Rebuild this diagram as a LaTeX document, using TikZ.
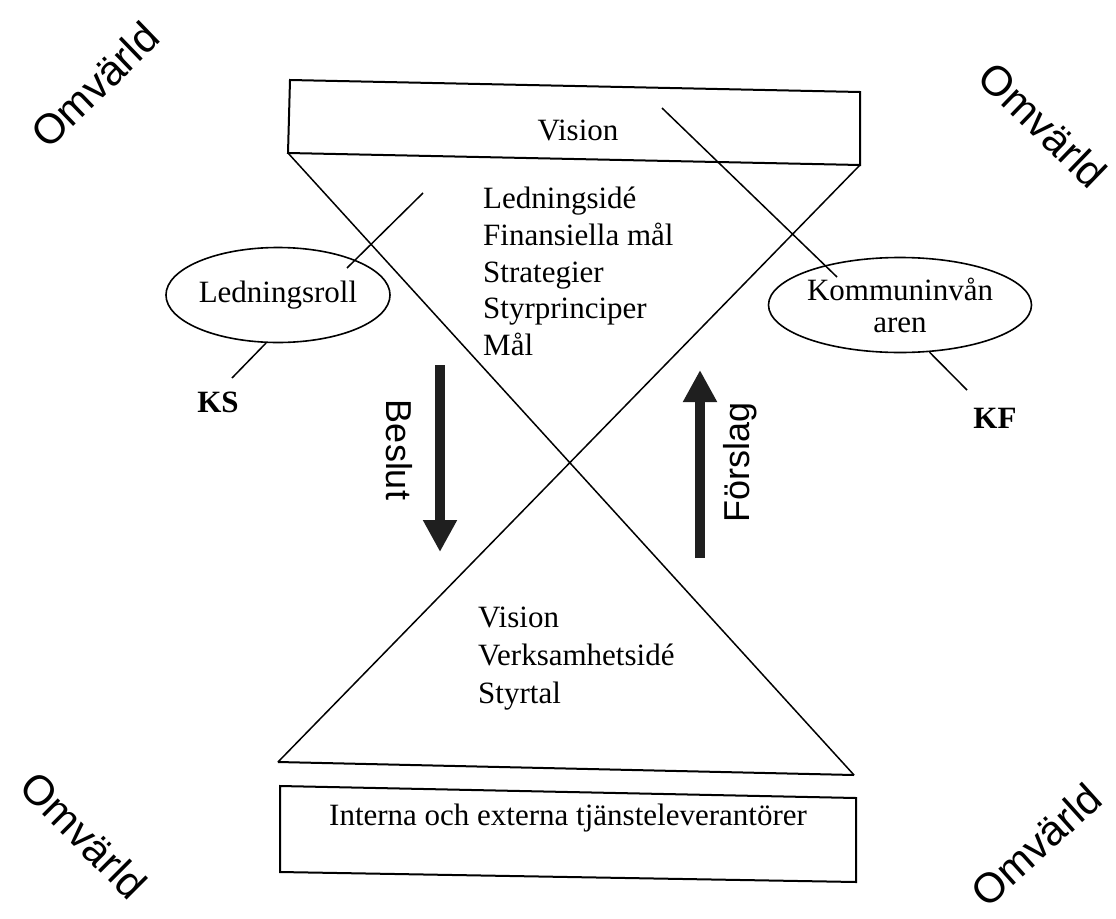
\documentclass[tikz,border=0pt]{standalone}
\usepackage{fontspec}
\setmainfont{Liberation Serif}
\newfontfamily\arialfont{Liberation Sans}
\usetikzlibrary{shapes.geometric,arrows.meta}
\begin{document}
\begin{tikzpicture}[x=1pt,y=-1pt,
  txt/.style={font=\fontsize{31}{37}\selectfont,inner sep=0pt},
  sidetxt/.style={font=\arialfont\fontsize{42}{46}\selectfont,inner sep=0pt},
  flowtxt/.style={font=\arialfont\fontsize{36}{40}\selectfont,inner sep=0pt},
  roll/.style={draw,ellipse,line width=1.6pt,inner sep=0pt,align=center,
    font=\fontsize{31}{32}\selectfont},
  flow/.style={line width=10pt,draw=black!88,-{Triangle[width=32pt,length=32pt]}},
  conn/.style={line width=1.5pt},
  frame/.style={line width=2pt}]
 \useasboundingbox (0,0) rectangle (1116,918);
 % ram och timglas
 \draw [frame] (290,80) -- (860,92) -- (860,165) -- (288,153) -- cycle;
 \draw [conn] (288,153) -- (854,775);
 \draw [conn] (860,165) -- (278,762);
 \draw [frame] (278,762) -- (854,775);
 \draw [frame] (280,786) -- (856,798) -- (856,882) -- (280,872) -- cycle;
 % texter
 \node [txt,anchor=base] (vision) at (578,140) {Vision};
 \node [txt,anchor=base west] (ledi) at (483,208) {Ledningsidé};
 \node [txt,anchor=base west] (fina) at (483,245) {Finansiella mål};
 \node [txt,anchor=base west] (strat) at (483,282) {Strategier};
 \node [txt,anchor=base west] (styrp) at (483,318) {Styrprinciper};
 \node [txt,anchor=base west] (mal) at (483,355) {Mål};
 \node [txt,anchor=base west] (visb) at (478,627) {Vision};
 \node [txt,anchor=base west] (verk) at (478,665) {Verksamhetsidé};
 \node [txt,anchor=base west] (styrt) at (478,703) {Styrtal};
 \node [txt] (tjanst) at (568,818) {Interna och externa tjänsteleverantörer};
 % roller
 \node [roll,minimum width=210pt,minimum height=95pt] (lroll) at (278,295) {Ledningsroll};
 \node [roll,minimum width=205pt,minimum height=95pt] (kommun) at (900,305) {Kommuninvån\\aren};
 \node [txt,font=\bfseries\fontsize{31}{32}\selectfont] (ks) at (218,402) {KS};
 \node [txt,font=\bfseries\fontsize{31}{32}\selectfont] (kf) at (995,418) {KF};
 \coordinate (vstart) at (662,108);
 \coordinate (vend) at (837,277);
 \coordinate (lstart) at (423,193);
 \coordinate (lend) at (347,268);
 \coordinate (ksend) at (232,378);
 \coordinate (kfend) at (967,390);
 \draw [conn] (vstart) -- (vend);
 \draw [conn] (lstart) -- (lend);
 \draw [conn] (lroll.256) -- (ksend);
 \draw [conn] (kommun.302) -- (kfend);
 % pilar
 \coordinate (bs) at (440,365);
 \coordinate (be) at (440,552);
 \coordinate (fs) at (700,558);
 \coordinate (fe) at (700,370);
 \draw [flow] (bs) -- (be);
 \draw [flow] (fs) -- (fe);
 \node [flowtxt,rotate=-90] (beslut) at (399,450) {Beslut};
 \node [flowtxt,rotate=90] (forslag) at (740,462) {Förslag};
 % omvärld
 \node [sidetxt,rotate=44] (omv1) at (95,85) {Omvärld};
 \node [sidetxt,rotate=-44] (omv2) at (1043,125) {Omvärld};
 \node [sidetxt,rotate=-45] (omv3) at (84,835) {Omvärld};
 \node [sidetxt,rotate=42] (omv4) at (1036,845) {Omvärld};
\end{tikzpicture}
\end{document}
